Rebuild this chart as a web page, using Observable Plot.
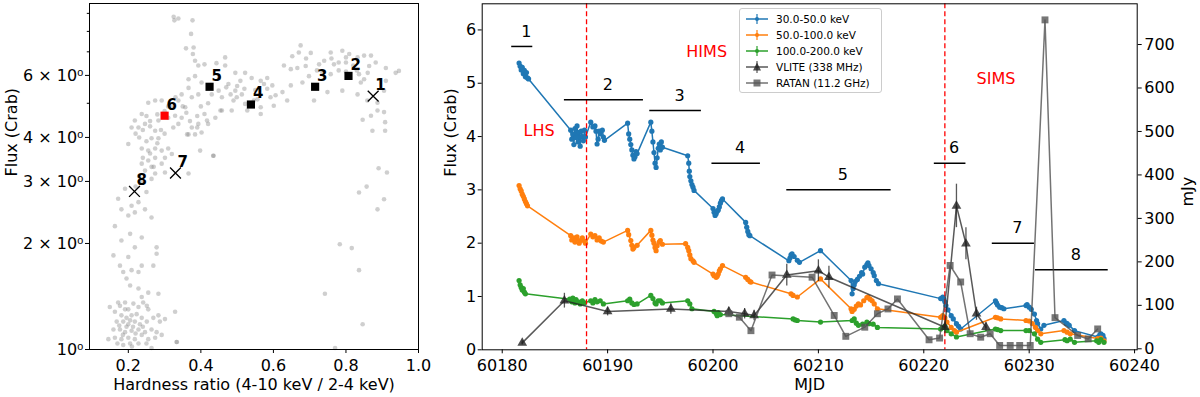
<!DOCTYPE html>
<html><head><meta charset="utf-8">
<script src="https://cdn.jsdelivr.net/npm/d3@7"></script>
<script src="https://cdn.jsdelivr.net/npm/@observablehq/plot@0.6"></script>
<style>
body{margin:0;background:#fff;font-family:"DejaVu Sans",sans-serif;}
#wrap{position:relative;width:1200px;height:397px;overflow:hidden;background:#fff}
#left{position:absolute;left:0;top:0}
#right{position:absolute;left:440px;top:0}
#legend{position:absolute;left:739px;top:8px;width:143px;height:85px;border:1px solid #ccc;border-radius:3px;background:rgba(255,255,255,0.85);font-size:10.5px;box-sizing:border-box;color:#000}
.row{position:absolute;left:0;height:14px;width:140px}
.row svg{position:absolute;left:5px;top:0}
.row span{position:absolute;left:36px;top:0;line-height:14px;white-space:nowrap}
</style></head>
<body><div id="wrap"><div id="left"></div><div id="right"></div><div id="legend"></div></div>
<script>
// ---------- Left panel data: hardness ratio vs flux ----------
const hrH = [0.338,0.327,0.377,0.373,0.359,0.38,0.378,0.384,0.393,0.41,0.443,0.467,0.467,0.495,0.522,0.54,0.366,0.384,0.402,0.366,0.347,0.375,0.393,0.449,0.458,0.476,0.495,0.499,0.513,0.522,0.485,0.458,0.44,0.41,0.42,0.393,0.375,0.366,0.384,0.402,0.347,0.338,0.357,0.338,0.32,0.329,0.31,0.324,0.283,0.274,0.255,0.292,0.237,0.218,0.209,0.228,0.246,0.274,0.264,0.283,0.2,0.237,0.255,0.274,0.292,0.31,0.32,0.301,0.274,0.255,0.237,0.264,0.292,0.246,0.274,0.301,0.435,0.398,0.366,
0.191,0.237,0.264,0.172,0.181,0.209,0.228,0.246,0.2,0.218,0.264,0.163,0.205,0.237,0.181,0.218,0.278,0.278,0.159,0.2,0.237,0.177,0.269,0.186,0.209,0.228,0.195,0.205,0.228,0.255,0.283,0.237,
0.149,0.163,0.177,0.191,0.2,0.214,0.228,0.241,0.255,0.181,0.195,0.209,0.223,0.237,0.168,0.186,0.2,0.218,0.232,0.251,0.269,0.283,0.287,0.301,0.159,0.177,0.191,0.209,0.228,0.246,0.264,0.278,0.145,0.163,0.181,0.2,0.218,0.237,0.255,0.274,0.292,0.186,0.205,0.228,0.264,0.333,0.329,0.251,0.172,0.191,
0.195,0.213,0.185,0.22,0.205,0.175,0.24,0.21,0.17,0.25,
0.22,0.25,0.23,0.26,0.28,0.29,0.3,0.27,0.24,0.26,0.22,0.25,
0.675,0.652,0.67,0.703,0.629,0.648,0.666,0.689,0.726,0.758,0.79,0.809,0.832,0.85,0.869,0.78,0.767,0.8,0.864,0.882,0.91,0.937,0.946,0.758,0.735,0.836,0.85,0.841,0.698,0.68,0.648,0.625,0.606,0.597,0.574,0.565,0.583,0.556,0.592,0.638,0.712,0.749,0.79,0.832,0.859,0.887,0.905,0.91,0.887,0.905,0.869,0.846,0.873,0.908,0.908,0.565,0.601,
0.78,0.82,0.76,0.74,0.8,0.86,0.72,0.69,0.8,0.83,
0.913,0.89,0.857,0.836,0.905,0.887,0.783,0.816,0.836,0.742,0.846,0.77,0.434,0.334,0.325,
0.482,0.509,0.546,0.565,0.583,0.49,0.454,0.417,0.39,0.362,0.528,
0.35,0.36,0.37,0.39,0.4,0.42,0.43,0.45,0.47,0.5,0.52,0.55,0.33,0.31,0.3,0.28,0.26,0.24,0.23,0.25];
const hrF = [8.7,8.6,8.6,7.87,7.16,7.2,6.9,6.6,6.4,6.45,6.5,6.75,6.4,6.1,6.1,5.9,5.85,5.97,5.73,5.53,5.3,5.2,5.3,5.43,5.2,5.67,5.43,5.2,5.3,4.98,4.77,4.77,4.55,4.66,4.37,4.37,4.27,4.08,4.08,4.13,4.55,4.37,4.87,5.09,4.87,4.61,4.55,4.27,4.47,5.09,5.02,5.09,4.66,4.47,4.27,4.27,4.37,4.18,3.98,3.98,3.83,3.72,3.67,3.72,3.67,3.72,3.59,3.5,3.5,3.44,3.37,3.3,3.37,3.22,3.16,3.18,3.55,3.67,3.16,
2.86,2.98,3.05,2.68,2.5,2.56,2.62,2.5,2.4,2.45,2.37,2.24,2.13,2.08,2.04,1.95,1.95,1.87,1.85,1.83,1.73,1.73,1.73,1.66,1.68,1.66,1.59,1.52,1.49,1.45,1.44,1.41,
1.32,1.28,1.33,1.36,1.30,1.35,1.32,1.36,1.30,1.25,1.23,1.25,1.26,1.23,1.20,1.20,1.18,1.20,1.18,1.20,1.23,1.25,1.20,1.22,1.14,1.14,1.12,1.13,1.14,1.12,1.14,1.12,1.07,1.08,1.07,1.08,1.07,1.10,1.07,1.08,1.10,1.03,1.04,1.04,1.01,1.05,1.28,1.33,1.36,1.30,
1.16,1.16,1.1,1.11,1.21,1.17,1.16,1.02,1.04,1.04,
2.9,2.8,3.1,3.6,3.85,4.2,4.1,3.3,3.5,4.3,4.1,4.6,
7.3,6.8,6.97,6.95,6.4,6.25,6.3,6.38,6.45,6.97,7.05,6.9,6.75,6.83,6.83,6.53,6.45,6.53,6.38,6.53,6.3,6.1,6.18,6.05,6.1,6.05,5.85,5.73,5.97,5.73,5.62,5.38,5.27,5.62,5.67,5.79,5.5,5.13,5.2,5.09,5.09,5.38,5.43,5.3,5.09,5.02,5.43,5.79,4.77,4.72,4.61,4.49,4.18,4.42,4.18,4.66,4.92,
6.2,6.4,6.7,6.6,6.15,6.1,6.2,6.7,6.75,6.2,
3.18,3.27,2.9,2.79,2.67,2.5,1.99,1.94,1.68,1.44,1.18,1.01,3.55,1.05,8.8,
5.3,5.79,5.09,4.87,5.9,5.09,4.77,4.47,4.27,4.08,4.77,
4.9,4.7,4.45,4.6,4.9,5.0,5.3,5.9,5.55,5.6,5.5,5.45,5.2,4.9,4.75,4.65,4.45,4.2,4.0,3.9];

// selected epochs 1-8
const selLabel = ["1","2","3","4","5","6","7","8"];
const selH = [0.875,0.807,0.715,0.538,0.424,0.30,0.33,0.217];
const selF = [5.24,5.98,5.57,4.96,5.57,4.61,3.17,2.81];
const selKind = ["x","s","s","s","s","r","x","x"];

const hrXTicks = [0.2,0.4,0.6,0.8,1.0];
const hrYMajor = [1,2,3,4,6];
const hrYLabels = ["10\u2070","2 \u00d7 10\u2070","3 \u00d7 10\u2070","4 \u00d7 10\u2070","6 \u00d7 10\u2070"];
const hrYMinor = [5,7,8,9];

// ---------- Right panel data: light curves ----------
const blueT = [60181.6,60181.7,60181.8,60181.9,60182.0,60182.1,60182.2,60182.3,60182.4,60182.5,
60186.5,60186.6,60186.7,60186.8,60186.9,60187.0,60187.1,60187.2,60187.3,60187.4,60187.5,60187.6,60187.7,60187.8,60187.9,
60188.4,60188.6,60188.8,60188.9,60189.0,60189.1,60189.2,60189.3,60189.5,60189.6,60189.7,
60191.9,60192.0,60192.1,60192.2,60192.3,60192.4,60192.5,60192.6,60192.7,60192.8,
60194.1,60194.2,60194.3,60194.4,60194.5,60194.6,60194.7,60194.8,60194.9,60195.0,60195.1,60195.2,
60197.6,60197.7,60197.75,60197.8,60197.9,60198.0,60198.1,60198.2,
60200.0,60200.1,60200.2,60200.3,60200.4,60200.5,60200.6,60200.7,60200.8,60200.9,
60203.1,60203.2,60203.3,60203.4,60203.5,
60207.2,60207.3,60207.4,60207.5,60207.7,60208.0,60208.2,
60210.2,
60213.1,60213.2,60213.3,60213.4,60213.5,60213.7,60213.9,60214.1,60214.2,60214.4,60214.6,60214.7,60214.8,60215.0,60215.2,60215.3,60215.5,60215.7,
60221.6,60221.8,60221.9,60222.0,60222.1,60222.3,60222.6,60222.8,60223.1,60223.3,60223.5,
60226.8,60226.9,60227.0,60227.2,60227.4,60227.6,
60229.7,60229.8,60230.0,60230.2,60230.5,60230.7,60230.8,60231.1,60231.4,
60233.3,60233.5,60233.6,60233.8,60234.3,
60236.5,60236.7,60236.8,60237.0,60237.1];
const blueF = [5.38,5.32,5.25,5.30,5.18,5.24,5.12,5.2,5.1,5.08,
4.12,3.95,4.05,3.85,4.15,3.98,4.2,3.9,4.08,3.82,4.1,4.0,3.92,4.12,3.99,
4.27,4.18,4.2,4.1,3.86,3.95,4.1,4.05,4.12,3.99,3.93,
4.25,4.05,3.95,3.85,3.75,3.65,3.58,3.62,3.72,3.68,
4.27,4.1,3.9,3.7,3.5,3.42,3.6,3.78,3.86,3.75,3.9,3.8,
3.64,3.5,3.35,3.25,3.17,3.1,3.05,2.99,
2.65,2.58,2.52,2.55,2.6,2.62,2.68,2.75,2.8,2.83,
2.39,2.3,2.22,2.16,2.14,
1.67,1.72,1.78,1.8,1.75,1.68,1.64,
1.86,
1.3,1.05,1.15,1.22,1.28,1.32,1.38,1.45,1.42,1.55,1.6,1.63,1.58,1.52,1.45,1.39,1.3,1.24,
0.96,0.99,0.95,0.9,0.83,0.75,0.64,0.58,0.49,0.44,0.39,
0.92,0.88,0.84,0.8,0.79,0.77,
0.83,0.85,0.8,0.76,0.67,0.55,0.49,0.39,0.46,
0.55,0.5,0.49,0.46,0.36,
0.24,0.28,0.3,0.27,0.21];

const orangeT = [60181.6,60181.7,60181.8,60181.9,60182.0,60182.1,60182.2,60182.3,60182.4,
60186.5,60186.6,60186.8,60186.9,60187.0,60187.1,60187.3,60187.4,60187.6,60187.8,60187.9,
60188.4,60188.6,60188.8,60189.0,60189.2,60189.4,60189.6,
60191.9,60192.0,60192.2,60192.3,60192.4,60192.5,60192.8,
60194.1,60194.2,60194.3,60194.4,60194.5,60194.6,60194.7,60194.9,60195.0,60195.2,
60197.4,60197.6,60197.7,60197.8,60197.9,60198.1,60198.2,
60200.0,60200.1,60200.3,60200.4,60200.5,60200.6,60200.7,60200.9,
60203.1,60203.3,60203.5,60203.6,
60207.4,60207.6,60208.0,
60210.2,
60213.1,60213.2,60213.4,60213.6,60213.8,60214.0,60214.3,60214.6,60214.7,60214.9,60215.1,60215.3,60215.6,
60221.6,60221.8,60222.0,60222.2,60222.6,60222.9,60223.1,
60226.8,60227.0,60227.3,
60229.7,60230.0,60230.3,60230.6,60230.8,60231.1,
60233.3,60233.6,60233.9,
60236.5,60236.8,60237.1];
const orangeF = [3.08,3.02,2.98,2.92,2.88,2.83,2.78,2.74,2.7,
2.14,2.06,2.1,2.02,2.08,2.12,2.0,2.05,2.1,2.04,2.0,
2.17,2.12,2.14,2.06,2.1,2.04,2.02,
2.24,2.16,2.05,1.96,1.89,1.92,1.96,
2.24,2.15,2.06,2.0,1.92,1.86,1.95,2.02,2.05,1.98,
1.99,1.92,1.86,1.78,1.71,1.67,1.64,
1.42,1.39,1.36,1.38,1.42,1.48,1.52,1.58,
1.36,1.32,1.28,1.27,
1.05,1.02,0.99,
1.33,
0.77,0.72,0.76,0.82,0.86,0.84,0.92,0.98,0.99,0.95,0.92,0.86,0.77,
0.61,0.64,0.6,0.52,0.42,0.36,0.33,
0.61,0.6,0.58,
0.55,0.54,0.49,0.42,0.36,0.3,
0.36,0.33,0.3,
0.21,0.22,0.17];

const greenT = [60181.6,60181.7,60181.8,60181.9,60182.0,60182.1,60182.2,
60186.4,60186.6,60186.7,60186.9,60187.0,60187.2,60187.4,60187.6,60187.8,
60188.4,60188.6,60188.8,60189.0,60189.3,60189.6,
60191.9,60192.1,60192.3,60192.5,60192.8,
60194.1,60194.3,60194.5,60194.6,60194.8,60195.0,60195.2,
60197.6,60197.8,60198.0,
60200.1,60200.3,60200.4,60200.5,60200.7,
60207.6,60207.8,60208.0,
60210.2,
60213.2,60213.4,60213.6,60213.8,60214.2,60214.6,60214.8,60215.2,60215.6,
60221.6,60221.8,60222.0,60222.2,60222.6,60223.1,
60226.8,60227.0,60227.3,
60229.7,60230.0,60230.5,60230.8,60231.1,
60233.4,60233.6,60233.9,60234.3,
60236.4,60236.6,60236.8,60237.1];
const greenF = [1.3,1.22,1.17,1.12,1.15,1.08,1.05,
0.95,0.9,0.97,0.88,0.94,0.9,0.86,0.92,0.88,
0.92,0.88,0.94,0.9,0.92,0.86,
0.92,0.95,0.88,0.85,0.86,
1.02,0.96,0.88,0.86,0.92,0.92,0.88,
0.92,0.86,0.77,
0.72,0.68,0.64,0.7,0.66,
0.58,0.56,0.55,
0.52,
0.55,0.58,0.5,0.46,0.48,0.52,0.49,0.48,0.42,
0.39,0.42,0.44,0.36,0.3,0.24,
0.39,0.38,0.36,
0.36,0.36,0.3,0.2,0.14,
0.19,0.17,0.2,0.14,
0.17,0.14,0.19,0.14];

const vliteT = [60181.9,60185.9,60190.0,60196.0,60201.5,60203.0,60203.9,60207.0,60210.0,60211.0,60222.0,60223.1,60224.0,60225.0,60225.9];
const vliteMJy = [16,113,88,94,88,83,79,172,182,167,52,331,244,83,52];
const vliteErr = [5,17,10,12,10,12,12,25,25,25,15,50,37,15,10];

const ratanT = [60201.5,60202.5,60203.6,60205.6,60209.4,60211.5,60212.6,60214.4,60215.6,60216.6,60217.5,60220.5,60221.5,60222.5,60223.5,60224.4,60225.4,60226.3,60227.2,60228.2,60229.1,60230.1,60231.5,60232.45,60234.6,60235.6,60236.5];
const ratanMJy = [83,75,44,172,167,79,31,52,83,94,117,23,27,194,156,37,29,37,10,10,10,10,759,74,33,25,48];

const stageLabel = ["1","2","3","4","5","6","7","8"];
const stageStart = [60180.9,60185.9,60194.0,60199.9,60207.0,60221.0,60226.5,60230.6];
const stageEnd   = [60182.9,60193.4,60198.9,60204.5,60216.9,60224.0,60230.5,60237.5];
const stageLevel = [5.69,4.69,4.49,3.50,3.00,3.50,2.00,1.50];

const stateName = ["LHS","HIMS","SIMS"];
const stateT = [60183.5,60199.4,60226.85];
const stateF = [4.1,5.58,5.08];
const transitions = [60188,60222];

const mjdTicks = [60180,60190,60200,60210,60220,60230,60240];
const fluxTicks = [0,1,2,3,4,5,6];
const mjyTicks = [0,100,200,300,400,500,600,700];

const seriesNames = ["30.0-50.0 keV","50.0-100.0 keV","100.0-200.0 keV","VLITE (338 MHz)","RATAN (11.2 GHz)"];
const seriesColors = ["#1f77b4","#ff7f0e","#2ca02c","#222222","#555555"];

// ---------- build ----------
const FONT = "'DejaVu Sans', sans-serif";
const hr = hrH.map((h,i)=>({h, f: hrF[i]}));
const sel = selH.map((h,i)=>({h, f: selF[i], lab: selLabel[i], kind: selKind[i]}));

const left = Plot.plot({
  width: 440, height: 397,
  marginLeft: 89, marginRight: 22, marginTop: 3, marginBottom: 48,
  style: {fontFamily: FONT, fontSize: "16px", background: "white", color: "black", overflow: "visible"},
  x: {domain: [0.093, 1.0]},
  y: {type: "log", domain: [1, 9.6]},
  marks: [
    Plot.dot(hr, {x: "h", y: "f", r: 2.3, fill: "#808080", fillOpacity: 0.38}),
    Plot.dot(sel.filter(d=>d.kind==="s"), {x:"h", y:"f", symbol:"square", r:4.6, fill:"black"}),
    Plot.dot(sel.filter(d=>d.kind==="r"), {x:"h", y:"f", symbol:"square", r:4.6, fill:"red"}),
    Plot.dot(sel.filter(d=>d.kind==="x"), {x:"h", y:"f", symbol:"times", r:5, stroke:"black", strokeWidth:1.3}),
    Plot.text(sel, {x:"h", y:"f", text:"lab", dx:2, dy:-11, textAnchor:"start", fontWeight:"bold", fontSize:15, fill:"black"}),
    Plot.frame({stroke:"black", strokeWidth:1}),
    Plot.axisX({ticks: hrXTicks, tickFormat: d3.format(".1f"), tickSize: 4, tickPadding: 6, label: null}),
    Plot.axisY({ticks: hrYMajor, tickFormat: (d)=>hrYLabels[hrYMajor.indexOf(d)], tickSize: 4, tickPadding: 2, label: null}),
    Plot.axisY({ticks: hrYMinor, tickFormat: ()=>"", tickSize: 2.2, label: null}),
    Plot.text(["Hardness ratio (4-10 keV / 2-4 keV)"], {frameAnchor:"bottom", dy: 35, lineAnchor:"middle", fontSize:16, fill:"black"}),
    Plot.text(["Flux (Crab)"], {frameAnchor:"left", dx: -78, rotate: -90, lineAnchor:"middle", fontSize:16, fill:"black"})
  ]
});
document.getElementById("left").appendChild(left);

const K = 6.49/796;
const pts = (T, F) => T.map((t,i)=>({t, f: F[i]}));
const blue = pts(blueT, blueF), orange = pts(orangeT, orangeF), green = pts(greenT, greenF);
const vlite = vliteT.map((t,i)=>({t, f: vliteMJy[i]*K, lo:(vliteMJy[i]-vliteErr[i])*K, hi:(vliteMJy[i]+vliteErr[i])*K}));
const ratan = ratanT.map((t,i)=>({t, f: ratanMJy[i]*K}));
const stages = stageLabel.map((l,i)=>({lab:l, s:stageStart[i], e:stageEnd[i], lev:stageLevel[i]}));
const states = stateName.map((n,i)=>({n, t:stateT[i], f:stateF[i]}));

const right = Plot.plot({
  width: 760, height: 397,
  marginLeft: 41.7, marginRight: 63.3, marginTop: 3.3, marginBottom: 47.7,
  style: {fontFamily: FONT, fontSize: "16px", background: "white", color: "black", overflow: "visible"},
  x: {domain: [60178.1, 60240.25]},
  y: {domain: [0, 6.49]},
  marks: [
    Plot.line(blue, {x:"t", y:"f", stroke:seriesColors[0], strokeWidth:1.5}),
    Plot.dot(blue, {x:"t", y:"f", r:2.6, fill:seriesColors[0]}),
    Plot.line(orange, {x:"t", y:"f", stroke:seriesColors[1], strokeWidth:1.5}),
    Plot.dot(orange, {x:"t", y:"f", r:2.6, fill:seriesColors[1]}),
    Plot.line(green, {x:"t", y:"f", stroke:seriesColors[2], strokeWidth:1.5}),
    Plot.dot(green, {x:"t", y:"f", r:2.6, fill:seriesColors[2]}),
    Plot.ruleX(transitions, {stroke:"red", strokeDasharray:"5,3", strokeWidth:1.3}),
    Plot.ruleY(stages, {y:"lev", x1:"s", x2:"e", stroke:"black", strokeWidth:1.5}),
    Plot.text(stages, {x: d=>(d.s+d.e)/2, y:"lev", text:"lab", dx:4, dy:-15, fontSize:16, fill:"black"}),
    Plot.text(states, {x:"t", y:"f", text:"n", fill:"red", fontSize:16}),
    Plot.line(vlite, {x:"t", y:"f", stroke:seriesColors[3], strokeOpacity:0.75, strokeWidth:1.5}),
    Plot.ruleX(vlite, {x:"t", y1:"lo", y2:"hi", stroke:seriesColors[3], strokeOpacity:0.75, strokeWidth:1.3}),
    Plot.dot(vlite, {x:"t", y:"f", symbol:"triangle", r:3.6, fill:seriesColors[3], fillOpacity:0.8}),
    Plot.line(ratan, {x:"t", y:"f", stroke:"#444", strokeOpacity:0.75, strokeWidth:1.5}),
    Plot.dot(ratan, {x:"t", y:"f", symbol:"square", r:3.9, fill:seriesColors[4], fillOpacity:0.8}),
    Plot.frame({stroke:"black", strokeWidth:1}),
    Plot.axisX({ticks: mjdTicks, tickFormat: d=>String(d), tickSize:4, tickPadding:6, label:null}),
    Plot.axisY({anchor:"left", ticks: fluxTicks, tickFormat: d=>String(d), tickSize:4, tickPadding:2, label:null}),
    Plot.axisY({anchor:"right", ticks: mjyTicks.map(v=>v*K), tickFormat: d=>String(Math.round(d/K)), tickSize:4, tickPadding:3, label:null, dy:-1}),
    Plot.text(["MJD"], {frameAnchor:"bottom", dy:35, lineAnchor:"middle", fontSize:16, fill:"black"}),
    Plot.text(["Flux (Crab)"], {frameAnchor:"left", dx:-31.5, rotate:-90, lineAnchor:"middle", fontSize:16, fill:"black"}),
    Plot.text(["mJy"], {frameAnchor:"right", dx:50.5, rotate:-90, lineAnchor:"middle", fontSize:16, fill:"black"})
  ]
});
document.getElementById("right").appendChild(right);

// legend (HTML)
const leg = document.getElementById("legend");
const rowTops = [3, 19, 34.5, 51, 67];
seriesNames.forEach((name, i) => {
  const row = document.createElement("div");
  row.className = "row";
  row.style.top = rowTops[i] + "px";
  let sym;
  if (i < 3) sym = `<circle cx="12" cy="7" r="2" fill="${seriesColors[i]}"/><line x1="12" x2="12" y1="2" y2="12" stroke="${seriesColors[i]}" stroke-width="1.2"/>`;
  else if (i === 3) sym = `<path d="M12,2.5 L16,10.5 L8,10.5 Z" fill="#222" fill-opacity="0.8"/><line x1="12" x2="12" y1="1" y2="13" stroke="#222" stroke-opacity="0.75" stroke-width="1.2"/>`;
  else sym = `<rect x="8.5" y="3.5" width="7" height="7" fill="#555" fill-opacity="0.8"/>`;
  const lc = i < 3 ? seriesColors[i] : (i === 3 ? "#222" : "#444");
  const op = i < 3 ? 1 : 0.75;
  row.innerHTML = `<svg width="26" height="14"><line x1="1" x2="23" y1="7" y2="7" stroke="${lc}" stroke-opacity="${op}" stroke-width="1.5"/>${sym}</svg><span>${name}</span>`;
  leg.appendChild(row);
});
</script></body></html>
